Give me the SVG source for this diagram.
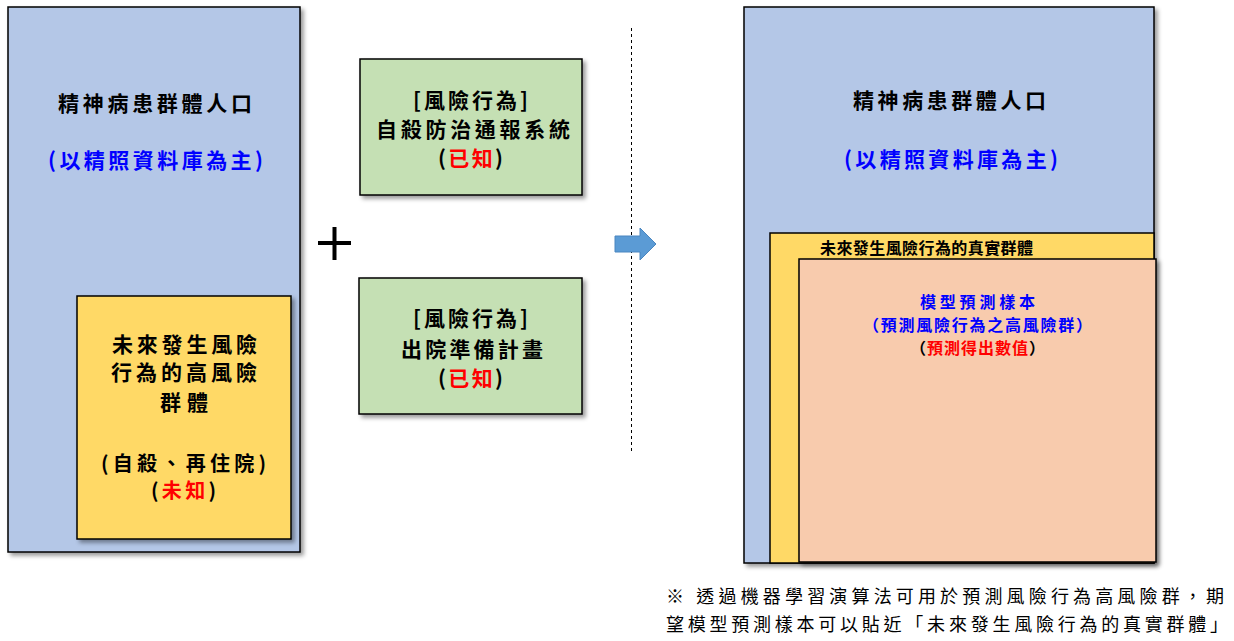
<svg xmlns="http://www.w3.org/2000/svg" width="1234" height="641" viewBox="0 0 1234 641">
<defs>
<filter id="sh" x="-5%" y="-5%" width="115%" height="115%">
<feDropShadow dx="3" dy="3" stdDeviation="2" flood-color="#000" flood-opacity="0.4"/>
</filter>
</defs>
<style>
.box{stroke:#000;stroke-width:1.5;filter:url(#sh)}
.blue{fill:#B4C7E7}
.yel{fill:#FFD966}
.grn{fill:#C5E0B4}
.org{fill:#F8CBAD}
text{font-family:"Noto Sans CJK TC","Noto Sans CJK SC",sans-serif;font-weight:bold;fill:#000}
.t20{font-size:21px}
.t19{font-size:20px}
.t15{font-size:16px}
.bl{fill:#0000FF}
.rd{fill:#FF0000}
.note{font-size:18px;font-weight:normal}
</style>
<rect width="1234" height="641" fill="#fff"/>
<g id="left-population">
<rect class="box blue" x="8" y="7" width="292" height="545"/>
<text class="t20" x="58" y="111" textLength="194" lengthAdjust="spacing">精神病患群體人口</text>
<text class="t20 bl" x="48" y="168" textLength="215" lengthAdjust="spacing">(以精照資料庫為主)</text>
</g>
<g id="left-highrisk">
<rect class="box yel" x="77" y="296" width="214" height="243"/>
<text class="t20" x="112" y="352" textLength="145" lengthAdjust="spacing">未來發生風險</text>
<text class="t20" x="111" y="380" textLength="146" lengthAdjust="spacing">行為的高風險</text>
<text class="t20" x="160" y="410" textLength="48" lengthAdjust="spacing">群體</text>
<text class="t19" x="101" y="471" textLength="165" lengthAdjust="spacing">(自殺、再住院)</text>
<text class="t19" x="151" y="498" textLength="65" lengthAdjust="spacing">(<tspan class="rd">未知</tspan>)</text>
</g>
<g id="green-suicide">
<rect class="box grn" x="360" y="59" width="222" height="136"/>
<text class="t20" x="413" y="108" textLength="115" lengthAdjust="spacing">[風險行為]</text>
<text class="t20" x="376" y="137" textLength="194" lengthAdjust="spacing">自殺防治通報系統</text>
<text class="t20" x="438" y="166" textLength="65" lengthAdjust="spacing">(<tspan class="rd">已知</tspan>)</text>
</g>
<g id="green-discharge">
<rect class="box grn" x="359" y="278" width="223" height="136"/>
<text class="t20" x="413" y="326" textLength="115" lengthAdjust="spacing">[風險行為]</text>
<text class="t20" x="401" y="357" textLength="142" lengthAdjust="spacing">出院準備計畫</text>
<text class="t20" x="438" y="386" textLength="65" lengthAdjust="spacing">(<tspan class="rd">已知</tspan>)</text>
</g>
<g id="connectors">
<path d="M318 243 H351 M334.5 227 V260" stroke="#000" stroke-width="4" fill="none"/>
<line x1="631.5" y1="28" x2="631.5" y2="452" stroke="#000" stroke-width="1" stroke-dasharray="3,3"/>
<path d="M615 236 H640 V228 L656 244 L640 260 V252 H615 Z" fill="#5B9BD5" stroke="#4A86C0" stroke-width="1"/>
</g>
<g id="right-population">
<rect class="box blue" x="744" y="7" width="410" height="556"/>
<text class="t20" x="853" y="108" textLength="193" lengthAdjust="spacing">精神病患群體人口</text>
<text class="t20 bl" x="844" y="167" textLength="214" lengthAdjust="spacing">(以精照資料庫為主)</text>
</g>
<g id="right-true-group">
<rect x="770" y="233" width="384" height="330" fill="#FFD966" stroke="#000" stroke-width="1.5"/>
<text class="t15" x="820" y="254" textLength="213" lengthAdjust="spacing">未來發生風險行為的真實群體</text>
</g>
<g id="right-model-sample">
<rect class="box org" x="799" y="259" width="357" height="303"/>
<text class="t15 bl" x="920" y="308" textLength="115" lengthAdjust="spacing">模型預測樣本</text>
<text class="t15 bl" x="863" y="331" textLength="229" lengthAdjust="spacing">（預測風險行為之高風險群）</text>
<text class="t15" x="910" y="354" textLength="135" lengthAdjust="spacing">（<tspan class="rd">預測得出數值</tspan>）</text>
</g>
<g id="note">
<text class="note" x="666" y="603" textLength="558" lengthAdjust="spacing">※ 透過機器學習演算法可用於預測風險行為高風險群，期</text>
<text class="note" x="666" y="631" textLength="562" lengthAdjust="spacing">望模型預測樣本可以貼近「未來發生風險行為的真實群體」</text>
</g>
</svg>
